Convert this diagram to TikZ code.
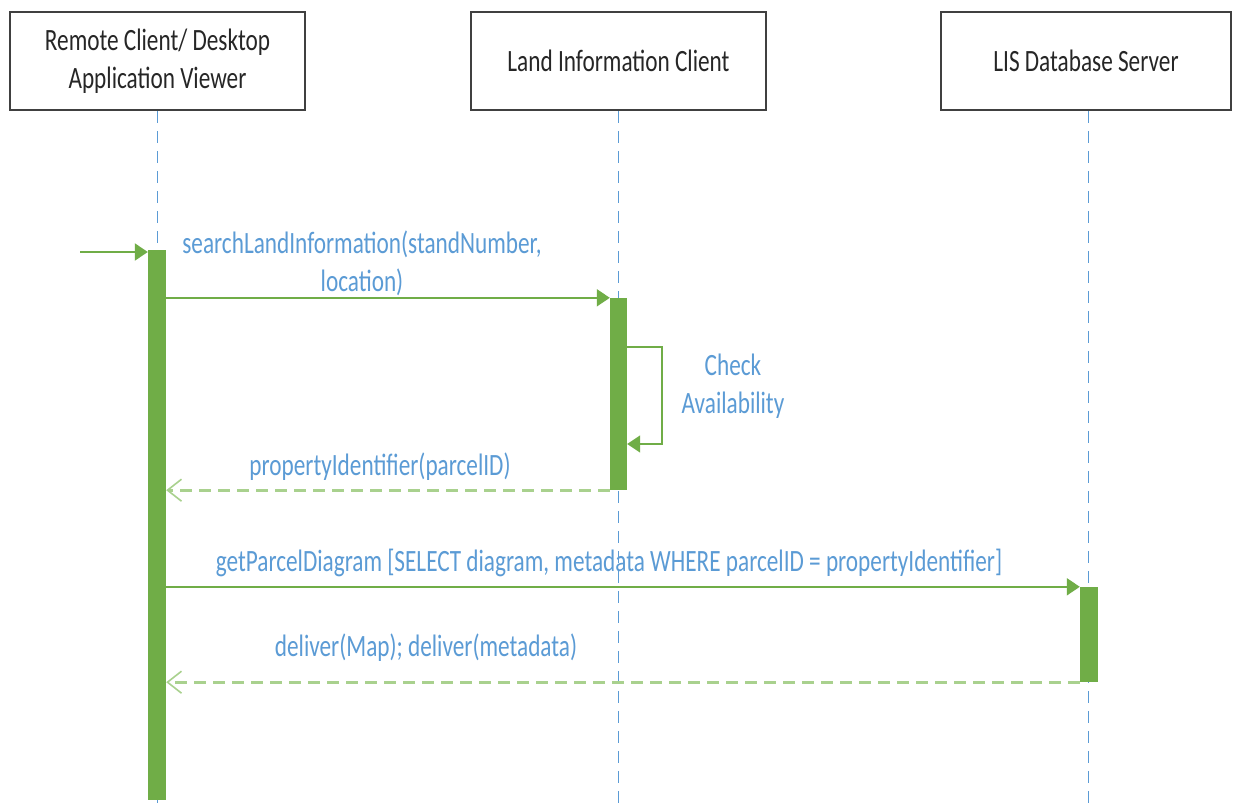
\documentclass[tikz,border=0pt]{standalone}
\usepackage{fontspec}
\setmainfont{Carlito}[FakeStretch=0.75]
\usetikzlibrary{arrows.meta}
\definecolor{actgreen}{HTML}{70AD47}
\definecolor{retgreen}{HTML}{A9D18E}
\definecolor{lblblue}{HTML}{5B9BD5}
\definecolor{boxgray}{HTML}{404040}

\begin{document}
\begin{tikzpicture}[x=1pt,y=-1pt,
  participant/.style={draw=boxgray, line width=2pt, fill=white,
    minimum width=295pt, minimum height=98pt, align=center,
    font=\fontsize{31}{38}\selectfont, text=black!85, inner sep=0pt},
  lifeline/.style={draw=lblblue, line width=1pt, dash pattern=on 12pt off 8pt},
  actbar/.style={fill=actgreen, draw=none, minimum width=18pt, inner sep=0pt},
  call/.style={draw=actgreen, line width=2pt,
    -{Triangle[length=13pt,width=17pt]}},
  reply/.style={draw=retgreen, line width=3pt, dash pattern=on 12pt off 7pt,
    -{Straight Barb[length=14pt,width=22pt,line width=1.6pt]}},
  msg/.style={text=lblblue, font=\fontsize{31}{38}\selectfont,
    align=center, inner sep=0pt}
]
\fill[white] (0,0) rectangle (1234,803);
\useasboundingbox (0,0) rectangle (1234,803);

% participants
\node[participant] (viewer) at (157.5,61) {Remote Client/ Desktop\\Application Viewer};
\node[participant] (lic) at (618.5,61) {Land Information Client};
\node[participant, minimum width=290pt] (lis) at (1086,61) {LIS Database Server};

% lifelines
\coordinate (viewerEnd) at (157,803);
\coordinate (licEnd) at (618,803);
\coordinate (lisEnd) at (1088,803);
\draw[lifeline] (viewer.south -| viewerEnd) -- (viewerEnd);
\draw[lifeline] (lic.south -| licEnd) -- (licEnd);
\draw[lifeline] (lis.south -| lisEnd) -- (lisEnd);

% activation bars
\node[actbar, minimum height=550pt] (bar1) at (157,525) {};
\node[actbar, minimum height=192pt, minimum width=17pt] (bar2) at (618.5,394) {};
\node[actbar, minimum height=95pt] (bar3) at (1089,634.5) {};

% found message
\coordinate (found) at (80,252);
\draw[call] (found) -- (found -| bar1.west);

% searchLandInformation
\draw[call] (bar1.east |- bar2.north) -- (bar2.north west);
\node[msg] (m1) at (362,263) {searchLandInformation(standNumber,\\location)};

% self call
\coordinate (selfTop) at (bar2.east |- 0,347);
\coordinate (selfBot) at (bar2.east |- 0,444);
\draw[call, line width=1.6pt] (selfTop) -- ++(35,0) |- (selfBot);
\node[msg] (chk) at (733,386) {Check\\Availability};

% propertyIdentifier reply
\draw[reply] (bar2.south west) -- (bar1.east |- bar2.south west);
\node[msg] (r1) at (380,467) {propertyIdentifier(parcelID)};

% getParcelDiagram
\draw[call] (bar1.east |- bar3.north) -- (bar3.north west);
\node[msg] (m3) at (609,563) {getParcelDiagram [SELECT diagram, metadata WHERE parcelID = propertyIdentifier]};

% deliver reply
\draw[reply] (bar3.south west) -- (bar1.east |- bar3.south west);
\node[msg] (r2) at (426,648) {deliver(Map); deliver(metadata)};
\end{tikzpicture}
\end{document}
